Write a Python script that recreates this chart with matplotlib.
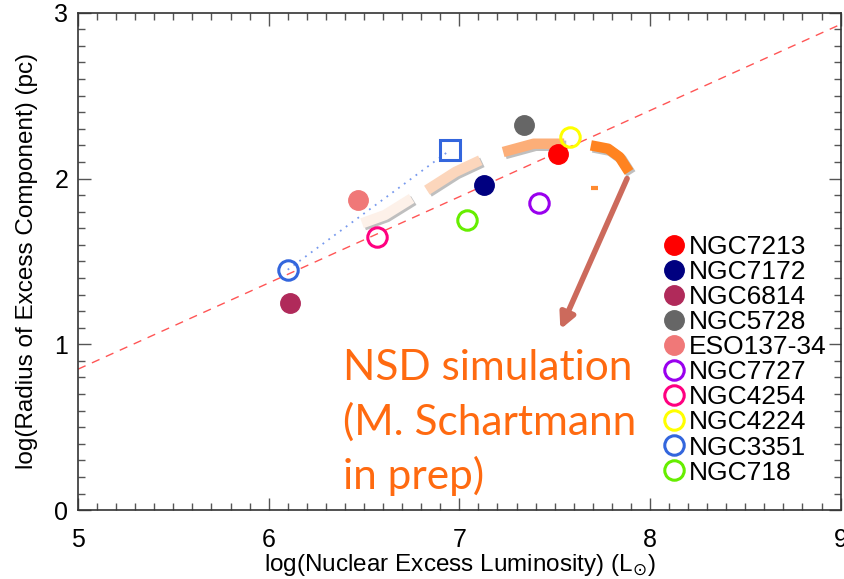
import matplotlib.pyplot as plt
import matplotlib.patheffects as pe
from matplotlib.ticker import MultipleLocator

plt.rcParams['font.family'] = ['Liberation Sans', 'DejaVu Sans']

# galaxies: log L_excess, log R_excess
names = ['NGC7213', 'NGC7172', 'NGC6814', 'NGC5728', 'ESO137-34',
         'NGC7727', 'NGC4254', 'NGC4224', 'NGC3351', 'NGC718']
log_lum = [7.52, 7.13, 6.11, 7.34, 6.47, 7.42, 6.57, 7.58, 6.10, 7.04]
log_rad = [2.15, 1.96, 1.25, 2.32, 1.87, 1.85, 1.65, 2.25, 1.45, 1.75]
colors = ['#ff0000', '#000080', '#b02a5a', '#666666', '#f07878',
          '#9900ee', '#ff0080', '#ffff00', '#3366dd', '#66ee00']
filled = [True, True, True, True, True, False, False, False, False, False]

# second NGC3351 estimate (square) joined to the circle
ngc3351_alt = (6.95, 2.17)

# reference relation
fit_slope = 0.52
fit_icpt = -1.75
fit_x = [5.0, 9.0]

# hand-drawn simulation track, light to dark
track = [
    ([6.49, 6.61, 6.75], [1.73, 1.78, 1.88], '#fdf1e9'),
    ([6.83, 6.98, 7.11], [1.93, 2.04, 2.11], '#fcd6bc'),
    ([7.23, 7.39, 7.55], [2.16, 2.21, 2.21], '#fcae78'),
    ([7.69, 7.78, 7.84, 7.89], [2.20, 2.18, 2.13, 2.04], '#ff8320'),
]
dash_x = [7.69, 7.73]
dash_y = [1.94, 1.94]
arrow_from = (7.88, 2.00)
arrow_to = (7.53, 1.09)

fig = plt.figure(figsize=(8.44, 5.79), dpi=100)
ax = fig.add_axes([0.0924, 0.119, 0.9036, 0.859])

ax.plot(fit_x, [fit_slope * x + fit_icpt for x in fit_x], color='#ff5555',
        lw=1.0, dashes=(6, 5))
ax.plot([log_lum[8], ngc3351_alt[0]], [log_rad[8], ngc3351_alt[1]],
        color='#7799ee', lw=1.3, ls=(0, (1, 3)))

shadow = [pe.SimpleLineShadow(offset=(1.5, -1.5), alpha=0.25), pe.Normal()]
for xs, ys, c in track:
    ax.plot(xs, ys, color=c, lw=7.5, solid_capstyle='butt', path_effects=shadow)
ax.plot(dash_x, dash_y, color='#ff8a30', lw=3, solid_capstyle='butt')
ax.annotate('', xy=arrow_to, xytext=arrow_from,
            arrowprops=dict(arrowstyle='-|>,head_length=0.9,head_width=0.45',
                            color='#cc6a5c', lw=4, shrinkA=0, shrinkB=0))

for n, x, y, c, f in zip(names, log_lum, log_rad, colors, filled):
    if f:
        ax.plot(x, y, 'o', ms=14, color=c, mec=c, label=n)
    else:
        ax.plot(x, y, 'o', ms=14, mfc='none', mec=c, mew=2.2, label=n)
ax.plot(*ngc3351_alt, 's', ms=15, mfc='none', mec=colors[8], mew=2.2)

ax.text(6.39, 0.97, 'NSD simulation\n(M. Schartmann\nin prep)', color='#ff6a10',
        fontsize=30.5, family=['Lato', 'DejaVu Sans'], linespacing=1.45,
        va='top', ha='left')

ax.legend(loc='upper left', bbox_to_anchor=(0.768, 0.553), frameon=False,
          fontsize=19, handlelength=0.8, handletextpad=0.15, labelspacing=0.04,
          borderpad=0, borderaxespad=0)

ax.set_xlim(5, 9)
ax.set_ylim(0, 3)
ax.xaxis.set_major_locator(MultipleLocator(1))
ax.xaxis.set_minor_locator(MultipleLocator(0.1))
ax.yaxis.set_major_locator(MultipleLocator(1))
ax.yaxis.set_minor_locator(MultipleLocator(0.1))
ax.tick_params(which='both', direction='in', top=True, right=True,
               labelsize=18, color='#555555')
ax.tick_params(which='major', length=9, width=1)
ax.tick_params(which='minor', length=5, width=1)
ax.tick_params(axis='x', pad=13)
ax.tick_params(axis='y', pad=7)
for s in ax.spines.values():
    s.set_color('#333333')
    s.set_linewidth(1.2)

ax.set_xlabel(r'log(Nuclear Excess Luminosity) (L$_{\odot}$)', fontsize=17.5, labelpad=0)
ax.set_ylabel('log(Radius of Excess Component) (pc)', fontsize=17.5, labelpad=12)

fig.savefig('out.png', dpi=100)
